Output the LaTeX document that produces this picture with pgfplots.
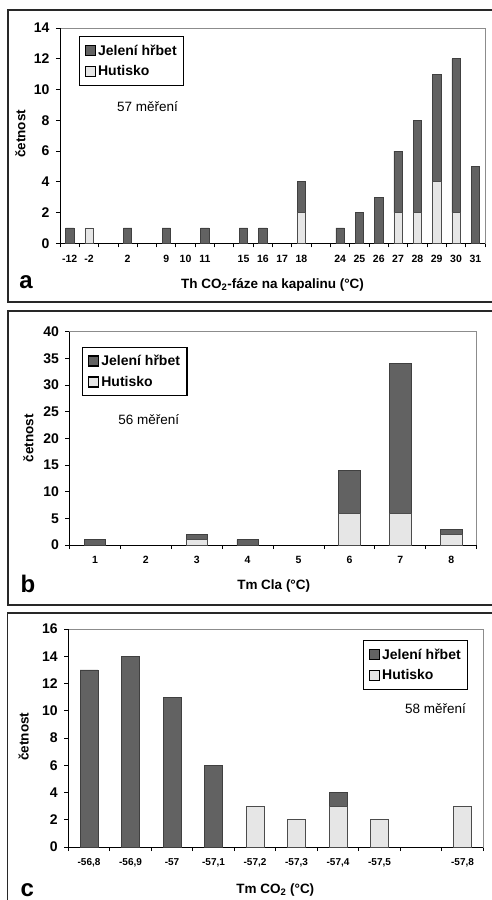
\documentclass[border=0pt]{standalone}
\usepackage{pgfplots}
\pgfplotsset{compat=1.18}
\usepackage{fontspec}
\setmainfont{Liberation Sans}
\definecolor{darkbar}{RGB}{98,98,98}
\definecolor{lightbar}{RGB}{230,230,230}
\definecolor{frameclr}{RGB}{40,40,40}
\definecolor{boxgray}{RGB}{140,140,140}
\newcommand{\fs}[1]{\fontsize{#1}{#1}\selectfont}
\pgfplotsset{
  panel/.style={
    scale only axis,
    anchor=south west,
    ybar stacked,
    clip=false,
    axis line style={draw=boxgray, line width=0.9pt},
    tick align=outside,
    tick pos=left,
    major tick length=4pt,
    tick style={black, line width=0.9pt},
    x tick label as interval,
    ymin=0,
    xticklabel style={font=\bfseries\fs{10.5}, yshift=-4pt},
    yticklabel style={font=\bfseries\fs{14}, xshift=-3pt},
    /pgf/number format/assume math mode=true,
    xlabel style={font=\bfseries\fs{13.5}, anchor=base},
    ylabel style={font=\bfseries\fs{13.5}, anchor=center},
    legend style={draw=black, line width=1.2pt, fill=white,
      font=\bfseries\fs{14}, inner xsep=5pt, inner ysep=6pt,
      row sep=5pt, cells={anchor=west}},
    legend image code/.code={\draw[#1, draw=black, line width=1.5pt] (0pt,-5pt) rectangle (10pt,5pt);},
    reverse legend,
  },
  hbar/.style={fill=lightbar, draw=black!70, line width=0.6pt},
  jbar/.style={fill=darkbar, draw=black!75, line width=0.6pt},
}
\begin{document}
\begin{tikzpicture}
\path[use as bounding box] (0pt,0pt) rectangle (492pt,-900pt);
\clip (0pt,0pt) rectangle (492pt,-900pt);

% ---------- panel a ----------
\begin{axis}[panel,
  at={(60pt,-243.3pt)}, width=425pt, height=215.3pt,
  bar width=0.43,
  xmin=-0.5, xmax=21.5, ymax=14, ytick={0,2,...,14},
  xtick={-0.5,0.5,...,21.5},
  xticklabels={-12,-2,,2,,9,10,11,,15,16,17,18,,24,25,26,27,28,29,30,31},
  xlabel={Th CO\textsubscript{2}-fáze na kapalinu (°C)},
  ylabel={četnost},
  xlabel style={at={(axis description cs:0.5,-0.211)}},
  ylabel style={at={(axis description cs:-0.093,0.508)}},
  legend style={at={(0.0447,0.963)}, anchor=north west},
]
\addplot[hbar] coordinates {(0,0) (1,1) (3,0) (5,0) (6,0) (7,0) (9,0) (10,0) (11,0) (12,2) (14,0) (15,0) (16,0) (17,2) (18,2) (19,4) (20,2) (21,0)};
\addlegendentry{Hutisko}
\addplot[jbar] coordinates {(0,1) (1,0) (3,1) (5,1) (6,0) (7,1) (9,1) (10,1) (11,0) (12,2) (14,1) (15,2) (16,3) (17,4) (18,6) (19,7) (20,10) (21,5)};
\addlegendentry{Jelení hřbet}
\draw[black, line width=0.9pt] (rel axis cs:0,1) -- (rel axis cs:0,0) -- (rel axis cs:1,0);
\end{axis}

% ---------- panel b ----------
\begin{axis}[panel,
  at={(69.5pt,-545pt)}, width=407.2pt, height=213.3pt,
  bar width=0.42,
  xmin=-0.5, xmax=7.5, ymax=40, ytick={0,5,...,40},
  xtick={-0.5,0.5,...,7.5},
  xticklabels={1,2,3,4,5,6,7,8},
  xlabel={Tm Cla (°C)},
  ylabel={četnost},
  xlabel style={at={(axis description cs:0.5015,-0.2077)}},
  ylabel style={at={(axis description cs:-0.101,0.5016)}},
  legend style={at={(0.0314,0.93)}, anchor=north west},
]
\addplot[hbar] coordinates {(0,0) (1,0) (2,1) (3,0) (4,0) (5,6) (6,6) (7,2)};
\addlegendentry{Hutisko}
\addplot[jbar] coordinates {(0,1) (1,0) (2,1) (3,1) (4,0) (5,8) (6,28) (7,1)};
\addlegendentry{Jelení hřbet}
\draw[black, line width=0.9pt] (rel axis cs:0,1) -- (rel axis cs:0,0) -- (rel axis cs:1,0);
\end{axis}

% ---------- panel c ----------
\begin{axis}[panel,
  at={(68.3pt,-847pt)}, width=415pt, height=218pt,
  bar width=0.43,
  xmin=-0.5, xmax=9.5, ymax=16, ytick={0,2,...,16},
  xtick={-0.5,0.5,...,9.5},
  xticklabels={{-56,8},{-56,9},{-57},{-57,1},{-57,2},{-57,3},{-57,4},{-57,5},{},{-57,8}},
  xticklabel style={font=\bfseries\fs{10}},
  xlabel={Tm CO\textsubscript{2} (°C)},
  ylabel={četnost},
  xlabel style={at={(axis description cs:0.4988,-0.2124)}},
  ylabel style={at={(axis description cs:-0.1075,0.506)}},
  legend style={at={(0.964,0.9495)}, anchor=north east},
]
\addplot[hbar] coordinates {(0,0) (1,0) (2,0) (3,0) (4,3) (5,2) (6,3) (7,2) (9,3)};
\addlegendentry{Hutisko}
\addplot[jbar] coordinates {(0,13) (1,14) (2,11) (3,6) (4,0) (5,0) (6,1) (7,0) (9,0)};
\addlegendentry{Jelení hřbet}
\draw[black, line width=0.9pt] (rel axis cs:0,1) -- (rel axis cs:0,0) -- (rel axis cs:1,0);
\end{axis}

% texts
\node[anchor=base, font=\fs{13.5}] at (147.5pt,-111.7pt) {57 měření};
\node[anchor=base, font=\fs{13.5}] at (148.8pt,-424pt) {56 měření};
\node[anchor=base, font=\fs{13.5}] at (435.5pt,-713.3pt) {58 měření};

% panel letters
\node[anchor=base west, inner sep=0pt, font=\bfseries\fs{24}] at (19.3pt,-288.3pt) {a};
\node[anchor=base west, inner sep=0pt, font=\bfseries\fs{24}] at (20.5pt,-592.7pt) {b};
\node[anchor=base west, inner sep=0pt, font=\bfseries\fs{24}] at (20.5pt,-896pt) {c};

% frames
\draw[frameclr, line width=1.8pt] (8pt,-10.3pt) rectangle (500pt,-302pt);
\draw[frameclr, line width=1.8pt] (8pt,-311pt) rectangle (500pt,-605.3pt);
\draw[frameclr, line width=1.8pt] (7.5pt,-613.3pt) rectangle (500pt,-910pt);
\end{tikzpicture}
\end{document}
